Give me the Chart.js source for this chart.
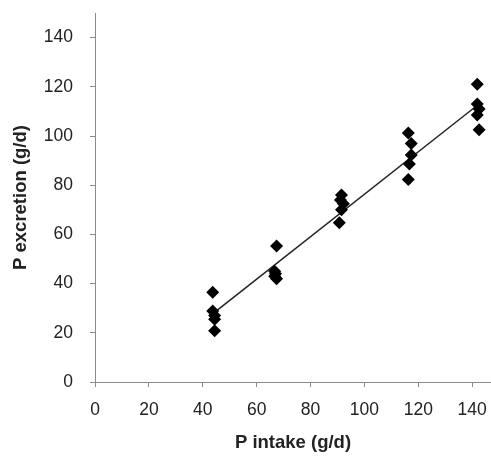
<!DOCTYPE html>
<html>
<head>
<meta charset="utf-8">
<script src="https://cdn.jsdelivr.net/npm/chart.js@4/dist/chart.umd.min.js"></script>
<style>
  html, body { margin: 0; padding: 0; background: #fff; overflow: hidden; }
  #wrap { width: 491px; height: 458px; position: relative; }
  canvas { display: block; }
</style>
</head>
<body>
<div id="wrap"><canvas id="chart"></canvas></div>
<script>
// P intake (g/d) vs P excretion (g/d)
const intake = [
  43.7, 43.7, 44.4, 44.4, 44.4,
  67.4, 66.7, 67.0, 66.7, 67.4,
  91.5, 91.1, 92.2, 91.5, 90.7,
  116.3, 117.4, 117.4, 116.7, 116.3,
  141.9, 141.9, 142.6, 141.9, 142.6
];
const excretion = [
  36.5, 28.9, 27.0, 25.5, 20.8,
  55.3, 45.0, 44.0, 43.0, 42.0,
  76.0, 74.0, 72.5, 70.0, 64.7,
  101.2, 97.0, 92.3, 88.6, 82.3,
  121.0, 113.0, 111.0, 108.5, 102.5
];
// fitted line endpoints
const fitX = [44.0, 141.0];
const fitY = [28.0, 111.7];

const xTicks = [0, 20, 40, 60, 80, 100, 120, 140];
const yTicks = [0, 20, 40, 60, 80, 100, 120, 140];

const textColor = "#222";
const axisColor = "#8a8a8a";
const font = { family: "'Liberation Sans', Arial, sans-serif", size: 17.5 };
const titleFont = { family: "'Liberation Sans', Arial, sans-serif", size: 18.5, weight: "bold" };

new Chart(document.getElementById("chart"), {
  data: {
    datasets: [
      {
        type: "scatter",
        data: intake.map((x, i) => ({ x, y: excretion[i] })),
        pointStyle: "rectRot",
        pointRadius: 6.5,
        backgroundColor: "#000",
        borderColor: "#000",
        borderWidth: 0,
      },
      {
        type: "line",
        data: fitX.map((x, i) => ({ x, y: fitY[i] })),
        borderColor: "#222",
        borderWidth: 1.5,
        pointRadius: 0,
        fill: false,
      }
    ]
  },
  options: {
    responsive: true,
    maintainAspectRatio: false,
    animation: false,
    devicePixelRatio: 1,
    layout: { autoPadding: false, padding: { top: 13, right: 0, left: 0, bottom: 0 } },
    plugins: { legend: { display: false }, tooltip: { enabled: false } },
    scales: {
      x: {
        type: "linear",
        min: 0,
        max: 147,
        afterBuildTicks: s => { s.ticks = xTicks.map(v => ({ value: v })); },
        afterFit: s => { s.height = 76; s.paddingLeft = 0; s.paddingRight = 0; },
        ticks: { color: textColor, font, padding: 13, maxRotation: 0 },
        grid: { drawOnChartArea: false, color: axisColor, tickLength: 5 },
        border: { color: axisColor, width: 1 },
        title: { display: true, text: "P intake (g/d)", color: textColor, font: titleFont, padding: { top: 11 } }
      },
      y: {
        type: "linear",
        min: 0,
        max: 150,
        afterBuildTicks: s => { s.ticks = yTicks.map(v => ({ value: v })); },
        afterFit: s => { s.width = 95; s.paddingTop = 0; s.paddingBottom = 0; },
        ticks: { color: textColor, font, padding: 17 },
        grid: { drawOnChartArea: false, color: axisColor, tickLength: 5 },
        border: { color: axisColor, width: 1 },
        title: { display: true, text: "P excretion (g/d)", color: textColor, font: titleFont, padding: { bottom: 0, top: 10 } }
      }
    }
  }
});
</script>
</body>
</html>
